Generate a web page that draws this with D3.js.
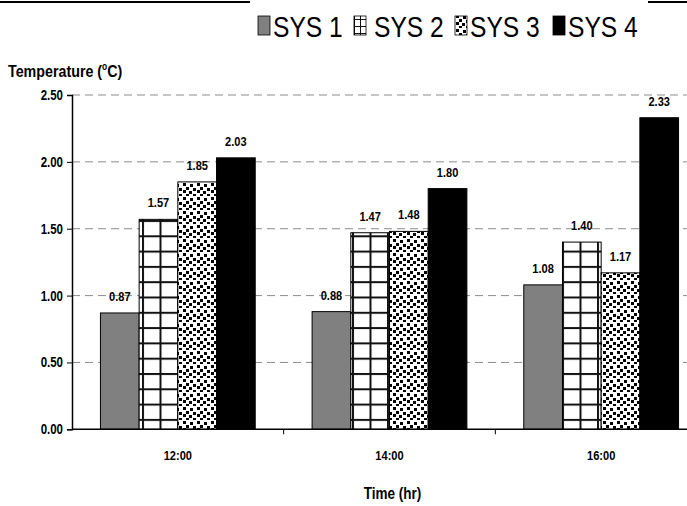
<!DOCTYPE html>
<html>
<head>
<meta charset="utf-8">
<script src="https://cdn.jsdelivr.net/npm/d3@7/dist/d3.min.js"></script>
<style>
  html, body { margin: 0; padding: 0; background: #fff; }
  svg { display: block; }
  text { font-family: "Liberation Sans", Arial, sans-serif; }
</style>
</head>
<body>
<svg id="chart" width="687" height="506"></svg>
<script>
// Temperature by time of day for four systems
const categories = ["12:00", "14:00", "16:00"];
const series = ["SYS 1", "SYS 2", "SYS 3", "SYS 4"];
const sys1 = [0.87, 0.88, 1.08];
const sys2 = [1.57, 1.47, 1.40];
const sys3 = [1.85, 1.48, 1.17];
const sys4 = [2.03, 1.80, 2.33];
const yTicks = [0, 0.5, 1.0, 1.5, 2.0, 2.5];

const values = [sys1, sys2, sys3, sys4];
const rows = [];
categories.forEach((c, i) => series.forEach((s, j) => rows.push({ cat: c, ser: s, idx: j, v: values[j][i] })));

const svg = d3.select("#chart");
const W = 687, H = 506;
const plot = { left: 72, right: 707, top: 95, bottom: 429.3 };
const SX = 0.82; // horizontal squeeze for a narrow typeface look

// text placed at (x, y) and squeezed horizontally
function ntext(parent, x, y, size, bold, anchor, sx) {
  return parent.append("text")
    .attr("transform", `translate(${x},${y}) scale(${sx || SX},1)`)
    .attr("font-size", size).attr("font-weight", bold ? "bold" : "normal")
    .attr("text-anchor", anchor || "start").attr("fill", "#000");
}

// fills: grey, large grid, confetti, solid black
const defs = svg.append("defs");
function gridPattern(id, w, h, ox, oy, lw) {
  const p = defs.append("pattern").attr("id", id).attr("patternUnits", "userSpaceOnUse")
    .attr("width", w).attr("height", h).attr("x", ox).attr("y", oy);
  p.append("rect").attr("width", w).attr("height", h).attr("fill", "#fff");
  p.append("rect").attr("x", 0).attr("y", 0).attr("width", lw).attr("height", h).attr("fill", "#111");
  p.append("rect").attr("x", 0).attr("y", 0).attr("width", w).attr("height", lw).attr("fill", "#111");
}
gridPattern("pGrid", 17.5, 15.3, 142, 220, 2);
gridPattern("pGridLeg", 6, 7, 6, 5, 1);

const conf = defs.append("pattern").attr("id", "pConf").attr("patternUnits", "userSpaceOnUse")
  .attr("width", 14).attr("height", 14);
conf.append("rect").attr("width", 14).attr("height", 14).attr("fill", "#fff");
[[1, 1], [8, 2], [4, 5], [11, 6], [1, 8], [7, 9], [4, 12], [11, 12]].forEach(([x, y]) =>
  conf.append("rect").attr("x", x).attr("y", y).attr("width", 3).attr("height", 3).attr("fill", "#000"));

const fills = ["#808080", "url(#pGrid)", "url(#pConf)", "#000"];
const legFills = ["#808080", "url(#pGridLeg)", "url(#pConf)", "#000"];

const x0 = d3.scaleBand().domain(categories).range([plot.left, plot.right]).paddingInner(0).paddingOuter(0);
const x1 = d3.scaleBand().domain(series).range([0, x0.bandwidth()]).paddingInner(0).paddingOuter(0.735);
const y = d3.scaleLinear().domain([0, 2.5]).range([plot.bottom, plot.top]);

// top rule broken by the legend
svg.append("line").attr("x1", 0).attr("x2", 250).attr("y1", 2).attr("y2", 2).attr("stroke", "#000").attr("stroke-width", 2);
svg.append("line").attr("x1", 648).attr("x2", W).attr("y1", 2).attr("y2", 2).attr("stroke", "#000").attr("stroke-width", 2);

// gridlines
svg.append("g").selectAll("line").data(yTicks.filter(t => t > 0)).join("line")
  .attr("x1", plot.left).attr("x2", W).attr("y1", d => y(d)).attr("y2", d => y(d))
  .attr("stroke", "#8c8c8c").attr("stroke-width", 1).attr("stroke-dasharray", "8,5");

// bars
svg.append("g").selectAll("rect").data(rows).join("rect")
  .attr("x", d => x0(d.cat) + x1(d.ser))
  .attr("y", d => y(d.v))
  .attr("width", x1.bandwidth())
  .attr("height", d => y(0) - y(d.v))
  .attr("fill", d => fills[d.idx])
  .attr("stroke", "#000").attr("stroke-width", 1);

// value labels
const gLab = svg.append("g");
rows.forEach(d => {
  ntext(gLab, x0(d.cat) + x1(d.ser) + x1.bandwidth() / 2, y(d.v) - 12, 13.5, true, "middle")
    .text(d.v.toFixed(2));
});

// y axis
const yAxis = d3.axisLeft(y).tickValues(yTicks).tickFormat(d3.format(".2f")).tickSize(5).tickPadding(4);
const gy = svg.append("g").attr("transform", `translate(${plot.left},0)`).call(yAxis);
gy.select(".domain").attr("stroke", "#000").attr("stroke-width", 1.5);
gy.selectAll(".tick line").attr("stroke", "#000");
gy.selectAll(".tick text")
  .attr("x", -9 / SX).attr("transform", `scale(${SX},1)`)
  .attr("font-size", 14).attr("font-weight", "bold").attr("fill", "#000")
  .style("font-family", "'Liberation Sans', Arial, sans-serif");

// x axis: line, boundary ticks, centred category labels
svg.append("line").attr("x1", plot.left).attr("x2", W).attr("y1", y(0)).attr("y2", y(0)).attr("stroke", "#000").attr("stroke-width", 1.5);
svg.append("g").selectAll("line").data(categories.slice(1)).join("line")
  .attr("x1", d => x0(d)).attr("x2", d => x0(d)).attr("y1", y(0)).attr("y2", y(0) + 5).attr("stroke", "#000");
const gCat = svg.append("g");
categories.forEach(c => ntext(gCat, x0(c) + x0.bandwidth() / 2, 460, 13.5, true, "middle").text(c));

// axis titles
ntext(svg, (plot.left + plot.right) / 2 + 3, 499, 16.5, true, "middle").text("Time (hr)");
const yt = ntext(svg, 8, 77, 17, true, "start", 0.84);
yt.append("tspan").text("Temperature (");
yt.append("tspan").attr("font-size", 10).attr("dy", -7).text("o");
yt.append("tspan").attr("dy", 7).text("C)");

// legend
const legX = [258, 354, 455, 553];
const legGap = [15, 20, 15, 15];
const leg = svg.append("g").selectAll("g").data(series).join("g")
  .attr("transform", (d, i) => `translate(${legX[i]},0)`);
leg.append("rect").attr("x", 0).attr("y", 16).attr("width", 12).attr("height", 19)
  .attr("fill", (d, i) => legFills[i]).attr("stroke", "#000").attr("stroke-width", 0.8);
leg.each(function (d, i) {
  ntext(d3.select(this), legGap[i], 37, 30, false, "start").text(d);
});
</script>
</body>
</html>
